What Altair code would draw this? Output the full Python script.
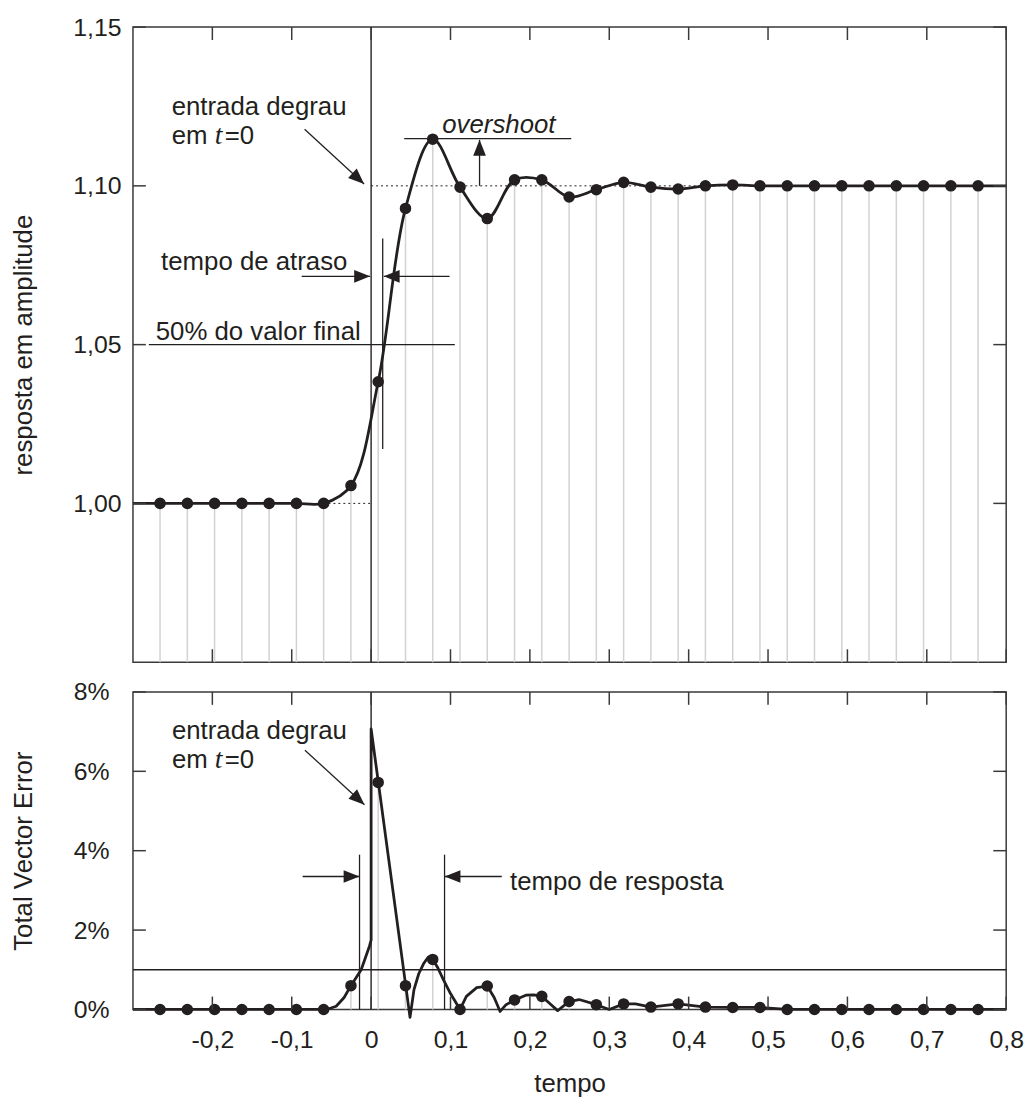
import altair as alt
import pandas as pd

# ---------------- data ----------------
t_samples = [-0.2659, -0.2315, -0.1972, -0.1628, -0.1285, -0.0941, -0.0598, -0.0254,
             0.0089, 0.0433, 0.0776, 0.1120, 0.1463, 0.1807, 0.2150, 0.2494, 0.2837,
             0.3181, 0.3524, 0.3868, 0.4211, 0.4555, 0.4898, 0.5242, 0.5585, 0.5929,
             0.6272, 0.6616, 0.6959, 0.7303, 0.7646]
amp_samples = [1.000, 1.000, 1.000, 1.000, 1.000, 1.000, 1.000, 1.0056, 1.0383, 1.0929,
               1.1147, 1.0996, 1.0897, 1.1019, 1.1019, 1.0965, 1.0988, 1.1011, 1.0996,
               1.0990, 1.1000, 1.1003, 1.1000, 1.1000, 1.1000, 1.1000, 1.1000, 1.1000,
               1.1000, 1.1000, 1.1000]
tve_samples = [0, 0, 0, 0, 0, 0, 0, 0.6, 5.72, 0.6, 1.26, 0, 0.59, 0.24, 0.33, 0.2, 0.12,
               0.14, 0.06, 0.14, 0.06, 0.05, 0.05, 0, 0, 0, 0, 0, 0, 0, 0]

# continuous TVE curve
tve_curve_t = [-0.300, -0.056, -0.044, -0.034, -0.0254, -0.0125, -0.002, 0.000, 0.000, 0.049,
               0.054, 0.060, 0.066, 0.072, 0.0776, 0.084, 0.091, 0.100, 0.112, 0.120, 0.133,
               0.1463, 0.155, 0.1625, 0.170, 0.1807, 0.195, 0.205, 0.215, 0.225, 0.235,
               0.2494, 0.262, 0.2837, 0.300, 0.3181, 0.333, 0.3524, 0.3868, 0.4211, 0.4555,
               0.4898, 0.5242, 0.800]
tve_curve_v = [0, 0, 0.08, 0.3, 0.6, 1.0, 1.6, 1.75, 7.07, -0.2, 0.5, 0.9, 1.15, 1.32, 1.26,
               1.05, 0.75, 0.4, 0.0, 0.33, 0.55, 0.59, 0.3, -0.05, 0.12, 0.24, 0.36, 0.37,
               0.33, 0.15, -0.03, 0.2, 0.25, 0.12, 0.0, 0.14, 0.14, 0.06, 0.14, 0.06, 0.05,
               0.05, 0.0, 0.0]

x_tick_values = [-0.2, -0.1, 0, 0.1, 0.2, 0.3, 0.4, 0.5, 0.6, 0.7, 0.8]
amp_tick_values = [1.00, 1.05, 1.10, 1.15]
tve_tick_values = [0, 2, 4, 6, 8]

# annotations, top panel
top_text = ["entrada degrau", "em", "=0", "tempo de atraso", "50% do valor final"]
top_text_x = [-0.2513, -0.2513, -0.1845, -0.2646, -0.2713]
top_text_y = [1.1222, 1.1131, 1.1131, 1.0735, 1.0515]
top_ital_text, top_ital_x, top_ital_y = ["overshoot"], [0.0896], [1.1165]
top_serif_text, top_serif_x, top_serif_y = ["t"], [-0.197], [1.1131]

top_seg_x = [-0.28, 0.0417, 0.0146, -0.0838, -0.0875, 0.0988, 0.1366]
top_seg_x2 = [0.1054, 0.2521, 0.0146, -0.0088, -0.0013, 0.0159, 0.1366]
top_seg_y = [1.05, 1.1149, 1.0834, 1.1178, 1.0715, 1.0715, 1.100]
top_seg_y2 = [1.05, 1.1149, 1.0171, 1.1006, 1.0715, 1.0715, 1.1145]

top_dot_x, top_dot_x2, top_dot_y = [0.0, -0.06], [0.8, 0.0], [1.10, 1.00]

top_head_x = [-0.0088, -0.0013, 0.0159, 0.1366]
top_head_y = [1.1006, 1.0715, 1.0715, 1.1145]
top_head_ang = [42.5, 0, 180, 270]

# annotations, bottom panel
bot_text = ["entrada degrau", "em", "=0", "tempo de resposta"]
bot_text_x = [-0.2509, -0.2509, -0.1845, 0.175]
bot_text_y = [6.825, 6.075, 6.075, 3.0175]
bot_serif_text, bot_serif_x, bot_serif_y = ["t"], [-0.197], [6.075]

bot_seg_x = [-0.3, -0.0834, -0.0146, 0.0925, -0.0863, 0.1646]
bot_seg_x2 = [0.8, -0.0084, -0.0146, 0.0925, -0.0146, 0.0925]
bot_seg_y = [1.0, 6.5325, 3.9, 3.9, 3.35, 3.35]
bot_seg_y2 = [1.0, 5.1575, 0.0, 0.0, 3.35, 3.35]

bot_head_x = [-0.0084, -0.0146, 0.0925]
bot_head_y = [5.1575, 3.35, 3.35]
bot_head_ang = [42.5, 0, 180]

# ---------------- style ----------------
W, HT, HB = 880, 640, 320
INK = "#231f20"
FRAME = "#3a3a3a"
STEM = "#d2d2d2"
FONT = "Liberation Sans"
TICK = 13
ARROW = "M0,0L-2,-0.8L-2,0.8Z"
DOT = 135
LW = 2.8

xscale = alt.Scale(domain=[-0.3, 0.8], nice=False, zero=False)
yscale_top = alt.Scale(domain=[0.95, 1.15], nice=False, zero=False)
yscale_bot = alt.Scale(domain=[0, 8], nice=False, zero=False)

ax_y_top = alt.Axis(values=amp_tick_values, labelExpr="replace(format(datum.value, '.2f'), '.', ',')",
                    ticks=False, domain=False, grid=False, labelPadding=12, labelFontSize=25,
                    title="resposta em amplitude", titleFontSize=26, titleX=-97)
ax_y_bot = alt.Axis(values=tve_tick_values, labelExpr="datum.value + '%'",
                    ticks=False, domain=False, grid=False, labelPadding=24, labelFontSize=25,
                    title="Total Vector Error", titleFontSize=26, titleX=-97)
ax_x_bot = alt.Axis(values=x_tick_values, labelExpr="replace('' + datum.value, '.', ',')",
                    ticks=False, domain=False, grid=False, labelPadding=18, labelFontSize=25,
                    labelFlush=False, title="tempo", titleFontSize=26, titleY=83,
                    titleBaseline="alphabetic")


def XT(f):
    return alt.X(f, type="quantitative", scale=xscale, axis=None)


def YT(f):
    return alt.Y(f, type="quantitative", scale=yscale_top, axis=ax_y_top)


def XB(f):
    return alt.X(f, type="quantitative", scale=xscale, axis=ax_x_bot)


def YB(f):
    return alt.Y(f, type="quantitative", scale=yscale_bot, axis=ax_y_bot)


samples = pd.DataFrame({"t": t_samples, "amp": amp_samples, "tve": tve_samples})
amp_curve = pd.DataFrame({"t": [-0.3] + t_samples + [0.8], "v": [1.0] + amp_samples + [1.1]})
amp_curve["i"] = range(len(amp_curve))
tve_curve = pd.DataFrame({"t": tve_curve_t, "v": tve_curve_v})
tve_curve["i"] = range(len(tve_curve))
zero_df = pd.DataFrame({"x": [0.0]})
xt_df = pd.DataFrame({"x": x_tick_values})


def text_layer(df, xf, yf, **kw):
    return alt.Chart(df).mark_text(align="left", baseline="alphabetic", color=INK, **kw).encode(
        x=xf("x"), y=yf("y"), text="text:N")


# ---------------- top panel ----------------
top_layers = [
    alt.Chart(samples).mark_rule(color=STEM, strokeWidth=1.5).encode(
        x=XT("t"), y=YT("amp"), y2=alt.Y2Datum(0.95)),
    alt.Chart(pd.DataFrame({"x": top_dot_x, "x2": top_dot_x2, "y": top_dot_y})).mark_rule(
        color=INK, strokeWidth=1, strokeDash=[2, 3]).encode(x=XT("x"), x2="x2", y=YT("y")),
    alt.Chart(zero_df).mark_rule(color=INK, strokeWidth=1.4).encode(x=XT("x")),
    alt.Chart(pd.DataFrame({"x": top_seg_x, "x2": top_seg_x2, "y": top_seg_y, "y2": top_seg_y2})).mark_rule(
        color=INK, strokeWidth=1.3).encode(x=XT("x"), x2="x2", y=YT("y"), y2="y2"),
    alt.Chart(amp_curve).mark_line(interpolate="catmull-rom", color=INK, strokeWidth=LW).encode(
        x=XT("t"), y=YT("v"), order="i:Q"),
    alt.Chart(samples).mark_circle(size=DOT, color=INK, opacity=1).encode(x=XT("t"), y=YT("amp")),
    alt.Chart(pd.DataFrame({"x": top_head_x, "y": top_head_y, "a": top_head_ang})).mark_point(
        shape=ARROW, filled=True, size=256, color=INK, opacity=1, strokeWidth=0).encode(
        x=XT("x"), y=YT("y"), angle=alt.Angle("a:Q", scale=None)),
    text_layer(pd.DataFrame({"text": top_text, "x": top_text_x, "y": top_text_y}), XT, YT,
               font=FONT, fontSize=26),
    text_layer(pd.DataFrame({"text": top_ital_text, "x": top_ital_x, "y": top_ital_y}), XT, YT,
               font=FONT, fontSize=26, fontStyle="italic"),
    text_layer(pd.DataFrame({"text": top_serif_text, "x": top_serif_x, "y": top_serif_y}), XT, YT,
               font="Liberation Serif", fontSize=28, fontStyle="italic"),
    alt.Chart(xt_df).mark_rule(color=FRAME, strokeWidth=1.5).encode(
        x=XT("x"), y=alt.value(HT), y2=alt.value(HT - TICK)),
    alt.Chart(xt_df).mark_rule(color=FRAME, strokeWidth=1.5).encode(
        x=XT("x"), y=alt.value(0), y2=alt.value(TICK)),
    alt.Chart(pd.DataFrame({"y": amp_tick_values})).mark_rule(color=FRAME, strokeWidth=1.5).encode(
        y=YT("y"), x=alt.value(0), x2=alt.value(TICK)),
    alt.Chart(pd.DataFrame({"y": amp_tick_values})).mark_rule(color=FRAME, strokeWidth=1.5).encode(
        y=YT("y"), x=alt.value(W), x2=alt.value(W - TICK)),
]
top = alt.layer(*top_layers).properties(width=W, height=HT)

# ---------------- bottom panel ----------------
bot_layers = [
    alt.Chart(samples).mark_rule(color=STEM, strokeWidth=1.5).encode(
        x=XB("t"), y=YB("tve"), y2=alt.Y2Datum(0)),
    alt.Chart(zero_df).mark_rule(color=INK, strokeWidth=1.4).encode(x=XB("x")),
    alt.Chart(pd.DataFrame({"x": bot_seg_x, "x2": bot_seg_x2, "y": bot_seg_y, "y2": bot_seg_y2})).mark_rule(
        color=INK, strokeWidth=1.3).encode(x=XB("x"), x2="x2", y=YB("y"), y2="y2"),
    alt.Chart(tve_curve).mark_line(color=INK, strokeWidth=LW, strokeJoin="round").encode(
        x=XB("t"), y=YB("v"), order="i:Q"),
    alt.Chart(samples).mark_circle(size=DOT, color=INK, opacity=1).encode(x=XB("t"), y=YB("tve")),
    alt.Chart(pd.DataFrame({"x": bot_head_x, "y": bot_head_y, "a": bot_head_ang})).mark_point(
        shape=ARROW, filled=True, size=256, color=INK, opacity=1, strokeWidth=0).encode(
        x=XB("x"), y=YB("y"), angle=alt.Angle("a:Q", scale=None)),
    text_layer(pd.DataFrame({"text": bot_text, "x": bot_text_x, "y": bot_text_y}), XB, YB,
               font=FONT, fontSize=26),
    text_layer(pd.DataFrame({"text": bot_serif_text, "x": bot_serif_x, "y": bot_serif_y}), XB, YB,
               font="Liberation Serif", fontSize=28, fontStyle="italic"),
    alt.Chart(xt_df).mark_rule(color=FRAME, strokeWidth=1.5).encode(
        x=XB("x"), y=alt.value(HB), y2=alt.value(HB - TICK)),
    alt.Chart(xt_df).mark_rule(color=FRAME, strokeWidth=1.5).encode(
        x=XB("x"), y=alt.value(0), y2=alt.value(TICK)),
    alt.Chart(pd.DataFrame({"y": tve_tick_values})).mark_rule(color=FRAME, strokeWidth=1.5).encode(
        y=YB("y"), x=alt.value(0), x2=alt.value(TICK)),
    alt.Chart(pd.DataFrame({"y": tve_tick_values})).mark_rule(color=FRAME, strokeWidth=1.5).encode(
        y=YB("y"), x=alt.value(W), x2=alt.value(W - TICK)),
]
bot = alt.layer(*bot_layers).properties(width=W, height=HB)

chart = alt.vconcat(top, bot, spacing=30, bounds="flush").properties(
    padding={"left": 10, "top": 10, "right": 5, "bottom": 5},
    background="white",
).configure_view(stroke=FRAME, strokeWidth=1.5).configure_axis(
    labelFont=FONT, titleFont=FONT, labelColor=INK, titleColor=INK, titleFontWeight="normal"
)

chart.save("out.html", embed_options={"renderer": "svg", "actions": False})
